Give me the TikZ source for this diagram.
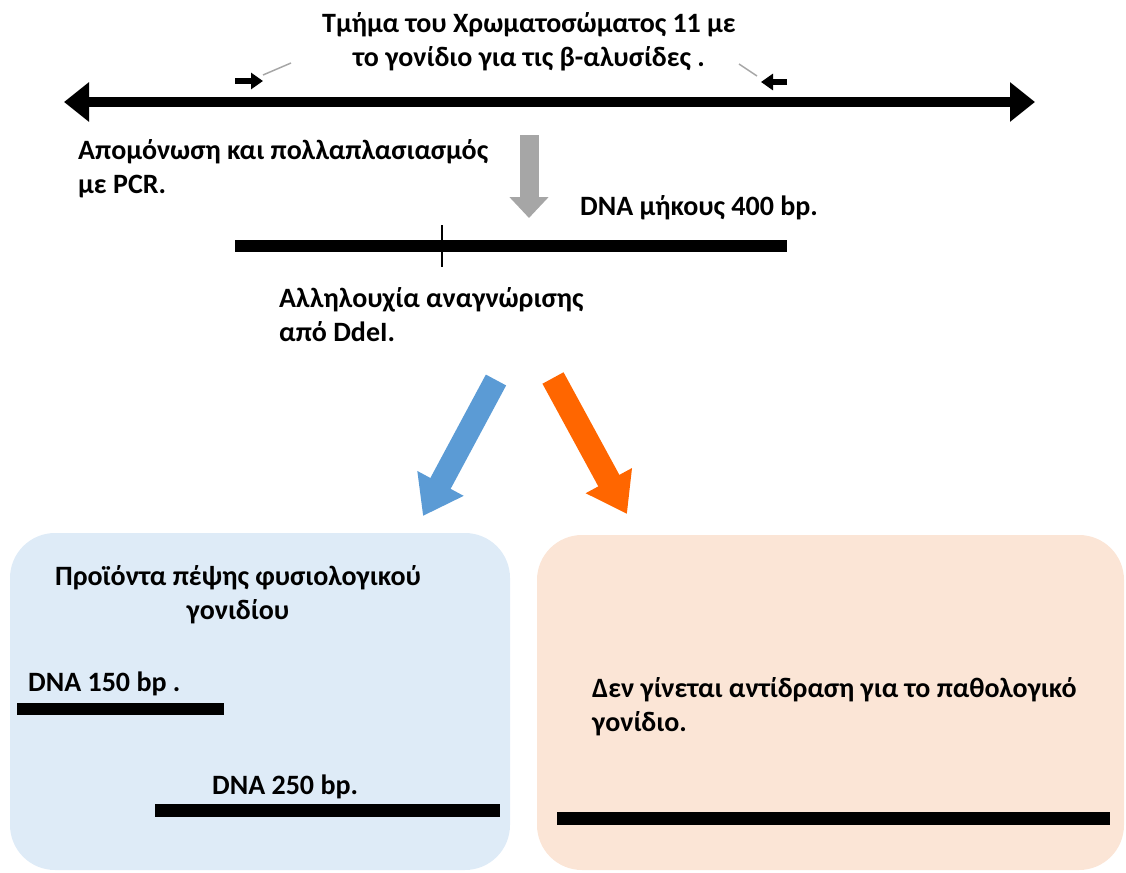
\documentclass[tikz,border=0pt]{standalone}
\usepackage{fontspec}
\setmainfont{Carlito}
\usetikzlibrary{positioning}
\usetikzlibrary{arrows,arrows.meta}
\usetikzlibrary{calc}

\definecolor{panelblue}{HTML}{DEEBF7}
\definecolor{panelorange}{HTML}{FBE5D6}
\definecolor{arrowblue}{HTML}{5B9BD5}
\definecolor{arroworange}{HTML}{FF6600}
\definecolor{arrowgrey}{HTML}{A6A6A6}

\tikzstyle{txt} = [font=\bfseries\fontsize{28}{34}\selectfont, inner sep=0pt]
\tikzstyle{panel} = [rectangle, rounded corners=45pt, draw=none]
\tikzstyle{strand} = [line width=12pt]
\tikzstyle{coord} = [coordinate]
\tikzstyle{primer} = [line width=6.5pt, -{Triangle[length=12pt,width=16pt]}]
\tikzstyle{leader} = [line width=1.5pt, draw=gray!70]

\begin{document}
\begin{tikzpicture}[x=1pt, y=-1pt]
	\useasboundingbox (0,0) rectangle (1126,872);

	\node [panel, fill=panelblue, minimum width=500pt, minimum height=337pt] (normalpanel) at (260,701.5) {};
	\node [panel, fill=panelorange, minimum width=587pt, minimum height=335pt] (mutantpanel) at (830.5,702.5) {};

	\node [txt, anchor=north, align=center] (title) at (529,12)
	{Τμήμα του Χρωματοσώματος 11 με\\το γονίδιο για τις β-αλυσίδες .};
	\node [txt, anchor=north west, align=left] (isolation) at (78,139)
	{Απομόνωση και πολλαπλασιασμός\\με PCR.};
	\node [txt, anchor=north west] (len400) at (580,195) {DNA μήκους 400 bp.};
	\node [txt, anchor=north west, align=left] (ddesite) at (279,287)
	{Αλληλουχία αναγνώρισης\\από DdeI.};
	\node [txt, anchor=north, align=center] (normaltext) at (238,565)
	{Προϊόντα πέψης φυσιολογικού\\γονιδίου};
	\node [txt, anchor=north west] (len150) at (28,672) {DNA 150 bp .};
	\node [txt, anchor=north west] (len250) at (212,775) {DNA 250 bp.};
	\node [txt, anchor=north west, align=left] (mutanttext) at (592,677)
	{Δεν γίνεται αντίδραση για το παθολογικό\\γονίδιο.};

	\node [coord] (chrL) at (64,102) {};
	\node [coord] (chrR) at (1035,102) {};
	\node [coord] (fwdA) at (235,81) {};
	\node [coord] (fwdB) at (263,81) {};
	\node [coord] (revA) at (787,82) {};
	\node [coord] (revB) at (761,82) {};
	\node [coord] (pcrA) at (529,135) {};
	\node [coord] (pcrB) at (529,218) {};
	\node [coord] (dnaL) at (235,246) {};
	\node [coord] (dnaR) at (787,246) {};
	\node [coord] (cutT) at (442,225) {};
	\node [coord] (cutB) at (442,267) {};
	\node [coord] (blueA) at (496,380) {};
	\node [coord] (blueB) at (423,516) {};
	\node [coord] (orA) at (553,378) {};
	\node [coord] (orB) at (627,514) {};
	\node [coord] (f150L) at (17,709) {};
	\node [coord] (f150R) at (224,709) {};
	\node [coord] (f250L) at (155,810) {};
	\node [coord] (f250R) at (500,810) {};
	\node [coord] (mutL) at (557,818) {};
	\node [coord] (mutR) at (1110,818) {};

	\draw [line width=10pt, {Triangle[length=25pt,width=38pt]}-{Triangle[length=25pt,width=38pt]}] (chrL) -- (chrR);
	\draw [primer] (fwdA) -- (fwdB);
	\draw [primer] (revA) -- (revB);
	\draw [leader] ($(fwdB)+(0,-6)$) -- ++(28,-12);
	\draw [leader] ($(revB)+(-22,-18)$) -- ++(18,12);
	\draw [draw=arrowgrey, line width=19pt, -{Triangle[length=21pt,width=38pt]}] (pcrA) -- (pcrB);
	\draw [strand] (dnaL) -- (dnaR);
	\draw [line width=2pt] (cutT) -- (cutB);
	\draw [draw=arrowblue, line width=23pt, -{Triangle[length=37pt,width=50pt]}] (blueA) -- (blueB);
	\draw [draw=arroworange, line width=24pt, -{Triangle[length=38pt,width=50pt]}] (orA) -- (orB);

	\draw [strand] (f150L) -- (f150R);
	\draw [strand, line width=13pt] (f250L) -- (f250R);
	\draw [strand, line width=13pt] (mutL) -- (mutR);
\end{tikzpicture}
\end{document}
